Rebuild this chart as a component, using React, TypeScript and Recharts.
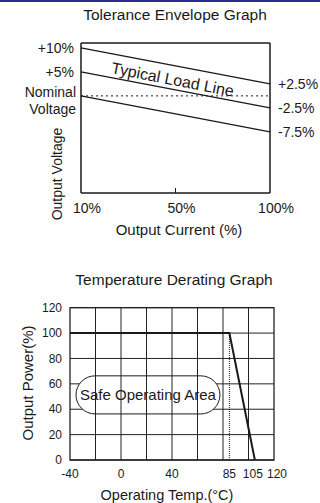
import { CartesianGrid, Line, LineChart, ReferenceArea, ReferenceDot, ReferenceLine, XAxis, YAxis } from "recharts";

// tolerance envelope
const loadCurrent = ["10%", "50%", "100%"];
const upperLimit = [10, null, 2.5];
const typicalLoad = [5, null, -2.5];
const lowerLimit = [0, null, -7.5];
const leftTicks = [10, 5, 0];
const rightTicks = [2.5, -2.5, -7.5];

// temperature derating
const temps = [-40, 85, 105];
const outputPower = [100, 100, 0];
const tempTicks = [-40, 0, 40, 85, 105, 120];
const powerTicks = [0, 20, 40, 60, 80, 100, 120];
const gridTemps = [-20, 0, 20, 40, 60, 80, 100];

const ink = "#1a1a1a";
const font = "'Liberation Sans', Arial, sans-serif";

const toleranceData = loadCurrent.map((x, i) => ({ x, upper: upperLimit[i], typical: typicalLoad[i], lower: lowerLimit[i] }));
const deratingData = temps.map((t, i) => ({ t, power: outputPower[i] }));

const pct = (v: number) => (v > 0 ? "+" : "") + v + "%";

function LeftTick({ x, y, payload }: any) {
  if (payload.value === 0) {
    return (
      <text x={x + 3} y={y} textAnchor="end" fontSize={14} fill={ink} fontFamily={font}>
        <tspan x={x + 3} dy={1}>Nominal</tspan>
        <tspan x={x + 3} dy={17}>Voltage</tspan>
      </text>
    );
  }
  return <text x={x + 1} y={y} dy={5} textAnchor="end" fontSize={14} fill={ink} fontFamily={font}>{pct(payload.value)}</text>;
}

function RightTick({ x, y, payload }: any) {
  return <text x={x} y={y} dy={5} textAnchor="start" fontSize={14} fill={ink} fontFamily={font}>{pct(payload.value)}</text>;
}

function CurrentTick({ x, y, payload }: any) {
  return (
    <g>
      {payload.value === "50%" && <line x1={x} x2={x} y1={y - 8} y2={y - 13} stroke={ink} strokeWidth={1} />}
      <text x={x + 6} y={y + 12} textAnchor="middle" fontSize={14} fill={ink} fontFamily={font}>{payload.value}</text>
    </g>
  );
}

function TempTick({ x, y, payload }: any) {
  const nudge = payload.value === 120 ? 3 : payload.value === 105 ? -2 : 0;
  return <text x={x + nudge} y={y} dy={10} textAnchor="middle" fontSize={12} fill={ink} fontFamily={font}>{payload.value}</text>;
}

const label = (text: string, left: number, top: number, width: number, size: number, rotate = false) => (
  <div
    style={{
      position: "absolute", left, top, width, height: 18, lineHeight: "18px", textAlign: "center",
      fontSize: size, fontFamily: font, color: ink, whiteSpace: "nowrap",
      transform: rotate ? "rotate(-90deg)" : undefined,
    }}
  >
    {text}
  </div>
);

const frame = { stroke: ink, strokeWidth: 1.5 };

export default function App() {
  return (
    <div style={{ position: "absolute", left: 0, top: 0, width: 320, height: 503, background: "#fff", overflow: "hidden" }}>
      <div style={{ position: "absolute", left: 0, top: 0, width: 320, height: 2, background: "#2b2b8c" }} />
      {label("Tolerance Envelope Graph", 15, 6, 320, 15.5)}
      <div style={{ position: "absolute", left: 0, top: 0 }}>
        <LineChart width={320} height={250} data={toleranceData} margin={{ top: 43, right: 0, left: 0, bottom: 37 }}>
          <XAxis dataKey="x" height={20} axisLine={frame} tickLine={false} interval={0} tick={<CurrentTick />} />
          <YAxis yAxisId="l" width={81} domain={[-20.2, 11]} ticks={leftTicks} interval={0} axisLine={frame} tickLine={false} tick={<LeftTick />} />
          <YAxis yAxisId="r" orientation="right" width={50} domain={[-20.2, 11]} ticks={rightTicks} interval={0} axisLine={frame} tickLine={false} tick={<RightTick />} />
          <ReferenceLine yAxisId="l" y={11} stroke={ink} strokeWidth={1.5} />
          <ReferenceLine yAxisId="l" y={0} stroke={ink} strokeWidth={1} strokeDasharray="2 3" />
          <Line yAxisId="l" dataKey="upper" stroke={ink} strokeWidth={1.3} dot={false} connectNulls isAnimationActive={false} />
          <Line yAxisId="l" dataKey="typical" stroke={ink} strokeWidth={1.3} dot={false} connectNulls isAnimationActive={false} />
          <Line yAxisId="r" dataKey="lower" stroke={ink} strokeWidth={1.3} dot={false} connectNulls isAnimationActive={false} />
          <ReferenceDot
            yAxisId="l" x="50%" y={3.3}
            shape={(p: any) => (
              <text x={p.cx - 3} y={p.cy} dy={5} textAnchor="middle" fontSize={16} fill={ink} fontFamily={font} transform={`rotate(11 ${p.cx - 3} ${p.cy})`}>
                Typical Load Line
              </text>
            )}
          />
        </LineChart>
      </div>
      {label("Output Current (%)", 19, 221, 320, 15)}
      {label("Output Voltage", -3, 165, 120, 14, true)}

      {label("Temperature Derating Graph", 14, 271, 320, 15.5)}
      <div style={{ position: "absolute", left: 0, top: 260 }}>
        <LineChart width={320} height={243} data={deratingData} margin={{ top: 47.7, right: 46, left: 0, bottom: 23 }}>
          <CartesianGrid vertical={false} stroke="#222" strokeDasharray="" />
          <XAxis dataKey="t" type="number" domain={[-40, 120]} ticks={tempTicks} interval={0} height={20} axisLine={false} tickLine={false} tick={<TempTick />} />
          <YAxis type="number" domain={[0, 120]} ticks={powerTicks} interval={0} width={70} axisLine={false} tickLine={false} tick={{ fontSize: 12, fill: ink, fontFamily: font }} />
          {gridTemps.map((t) => <ReferenceLine key={t} x={t} stroke="#222" strokeWidth={1} />)}
          <ReferenceArea x1={-40} x2={120} y1={0} y2={120} fill="none" stroke="#222" strokeWidth={1.3} />
          <ReferenceLine segment={[{ x: 85, y: 0 }, { x: 85, y: 100 }]} stroke={ink} strokeWidth={1} strokeDasharray="1 1" />
          <ReferenceArea
            x1={-35.3} x2={77.6} y1={36.3} y2={66.3}
            shape={(p: any) => (
              <g>
                <rect x={p.x} y={p.y} width={p.width} height={p.height} rx={p.height / 2} ry={p.height / 2} fill="#fff" stroke={ink} strokeWidth={1} />
                <text x={p.x + p.width / 2} y={p.y + p.height / 2} dy={5} textAnchor="middle" fontSize={15} fill={ink} fontFamily={font}>Safe Operating Area</text>
              </g>
            )}
          />
          <Line dataKey="power" type="linear" stroke={ink} strokeWidth={2} dot={false} isAnimationActive={false} />
        </LineChart>
      </div>
      {label("Output Power(%)", -42, 374, 140, 15, true)}
      {label("Operating Temp.(°C)", 7, 486, 320, 14.5)}
    </div>
  );
}
